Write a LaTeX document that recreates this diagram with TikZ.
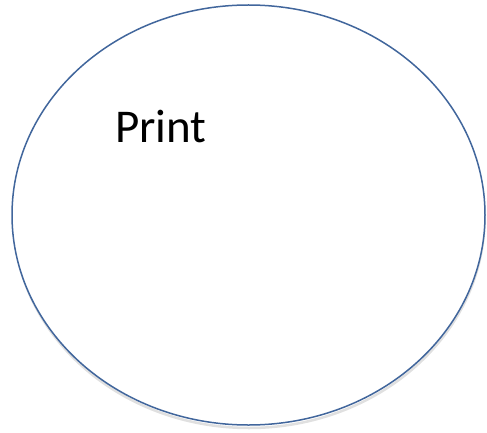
\documentclass[tikz,border=0pt]{standalone}
\usepackage{fontspec}
\setmainfont{Carlito}
\usetikzlibrary{shapes.geometric}
\definecolor{edgeblue}{HTML}{41669C}
\tikzset{
  oval/.style  = {draw=edgeblue, ellipse, line width=1.5pt, inner sep=0pt,
                  minimum width=473pt, minimum height=420pt},
  shade/.style = {draw=black!12, ellipse, line width=2.5pt, inner sep=0pt,
                  minimum width=471pt, minimum height=420pt},
  lbl/.style   = {font=\fontsize{47}{52}\selectfont, inner sep=0pt, anchor=base west}
}

\begin{document}
\begin{tikzpicture}[x=1pt, y=1pt]
  \useasboundingbox (0,0) rectangle (487,432);
  \node[shade] (shadow) at (249,214) {};
  \node[oval, fill=white] (printset) at (248.5,217) {};
  \node[lbl] (printlbl) at (115,290) {Print};
\end{tikzpicture}
\end{document}
